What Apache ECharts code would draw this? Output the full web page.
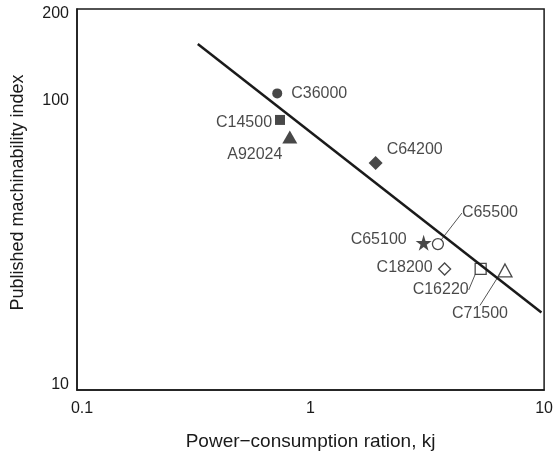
<!DOCTYPE html>
<html>
<head>
<meta charset="utf-8">
<script src="https://cdn.jsdelivr.net/npm/echarts@6/dist/echarts.min.js"></script>
<style>
  html, body { margin: 0; padding: 0; background: #fff; }
  #main { width: 556px; height: 456px; }
</style>
</head>
<body>
<div id="main"></div>
<script>
// alloy grades, power-consumption ratio (kj) and machinability index
var grades = ['C36000', 'C14500', 'A92024', 'C64200', 'C65100', 'C65500', 'C18200', 'C16220', 'C71500'];
var power = [0.72, 0.74, 0.815, 1.90, 3.05, 3.51, 3.75, 5.35, 6.80];
var machIndex = [103, 83.6, 73.1, 59.6, 31.8, 31.5, 25.9, 25.9, 25.6];

// fitted trend line end points
var fitX = [0.329, 9.74];
var fitY = [152, 18.4];

var xTicks = [0.1, 1, 10];
var yTicks = [10, 100, 200];

var FONT = "'Liberation Sans', Arial, sans-serif";
var INK = '#1a1a1a';
var STAR = 'path://M50,0 L61.2,34.5 L97.6,34.5 L68.2,55.9 L79.4,90.5 L50,69.1 L20.6,90.5 L31.8,55.9 L2.4,34.5 L38.8,34.5 Z';

// marker look per grade
var markers = [
  { symbol: 'circle', size: 10, fill: INK },
  { symbol: 'rect', size: 10, fill: INK },
  { symbol: 'triangle', size: [15, 13], fill: INK },
  { symbol: 'diamond', size: 14, fill: INK },
  { symbol: STAR, size: 16, fill: INK },
  { symbol: 'circle', size: 11, fill: '#fff' },
  { symbol: 'diamond', size: 12, fill: '#fff' },
  { symbol: 'rect', size: 11, fill: '#fff' },
  { symbol: 'triangle', size: [14, 13], fill: '#fff' }
];
// label offset from marker centre, and whether a leader line is drawn
var labelPlace = [
  { off: [42, 0] },
  { off: [-36, 3] },
  { off: [-35, 18] },
  { off: [39, -13] },
  { off: [-45, -3] },
  { off: [52, -31], leader: true },
  { off: [-40, -1] },
  { off: [-40, 21], leader: true },
  { off: [-25, 43], leader: true }
];

var points = grades.map(function (g, i) {
  var m = markers[i];
  var pt = {
    name: g,
    value: [power[i], machIndex[i]],
    symbol: m.symbol,
    symbolSize: m.size,
    itemStyle: { color: m.fill, borderColor: INK, borderWidth: m.fill === '#fff' ? 1.3 : 0 }
  };
  if (labelPlace[i].leader) {
    pt.labelLine = { show: true, lineStyle: { color: '#555', width: 1 } };
  }
  return pt;
});

var myChart = echarts.init(document.getElementById('main'));

// nudge the end labels inward a little, like the printed figure
function yLabel(v) {
  var t = String(+(+v).toPrecision(3));
  if (t === '10') return '{lo|' + t + '}';
  if (t === '200') return '{hi|' + t + '}';
  return '{mid|' + t + '}';
}
function xLabel(v) {
  var t = String(+(+v).toPrecision(3));
  if (t === '0.1') return '{first|' + t + '}';
  return t;
}

var option = {
  animation: false,
  textStyle: { fontFamily: FONT, color: INK },
  grid: {
    left: 77, right: 10, top: 9, bottom: 66,
    show: true, borderColor: INK, borderWidth: 1.5, backgroundColor: 'transparent'
  },
  xAxis: {
    type: 'log', logBase: 10, min: xTicks[0], max: xTicks[xTicks.length - 1],
    name: 'Power\u2212consumption ration, kj',
    nameLocation: 'middle', nameGap: 42,
    nameTextStyle: { fontFamily: FONT, fontSize: 19, color: INK },
    axisLine: { show: true, onZero: false, lineStyle: { color: INK, width: 1.5 } },
    axisTick: { show: false },
    minorTick: { show: false },
    splitLine: { show: false },
    axisLabel: {
      fontFamily: FONT, fontSize: 16, color: INK, margin: 11, formatter: xLabel,
      rich: { first: { fontFamily: FONT, fontSize: 16, color: INK, padding: [0, 0, 0, 10] } }
    }
  },
  yAxis: {
    type: 'log', logBase: 10, min: yTicks[0], max: yTicks[yTicks.length - 1],
    name: 'Published machinability index',
    nameLocation: 'middle', nameGap: 50,
    nameTextStyle: { fontFamily: FONT, fontSize: 18, color: INK, padding: [0, 0, 0, 14] },
    axisLine: { show: true, onZero: false, lineStyle: { color: INK, width: 1.5 } },
    axisTick: { show: false },
    minorTick: { show: false },
    splitLine: { show: false },
    axisLabel: {
      fontFamily: FONT, fontSize: 16, color: INK, margin: 8, formatter: yLabel,
      rich: {
        lo: { fontFamily: FONT, fontSize: 16, color: INK, padding: [0, 0, 10, 0] },
        hi: { fontFamily: FONT, fontSize: 16, color: INK, padding: [10, 0, 0, 0] },
        mid: { fontFamily: FONT, fontSize: 16, color: INK, padding: [6, 0, 0, 0] }
      }
    }
  },
  series: [
    {
      type: 'line',
      data: fitX.map(function (x, i) { return [x, fitY[i]]; }),
      showSymbol: false,
      lineStyle: { color: INK, width: 2.5 },
      silent: true
    },
    {
      type: 'scatter',
      data: points,
      label: {
        show: true,
        position: 'inside',
        align: 'center',
        verticalAlign: 'middle',
        fontFamily: FONT,
        fontSize: 16,
        color: INK,
        formatter: '{b}'
      },
      labelLine: { show: false, lineStyle: { color: '#555', width: 1 } },
      labelLayout: function (p) {
        var lp = labelPlace[p.dataIndex];
        return { dx: lp.off[0], dy: lp.off[1] };
      }
    }
  ]
};

myChart.setOption(option);
</script>
</body>
</html>
